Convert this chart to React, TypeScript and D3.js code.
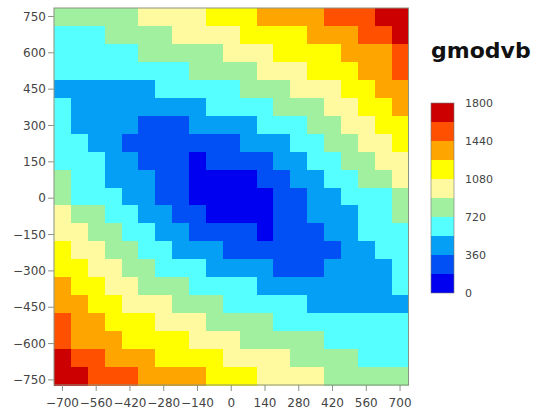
import React from 'react';
import * as d3 from 'd3';

// lag categories (cell centres)
const xCats = [-700, -630, -560, -490, -420, -350, -280, -210, -140, -70, 0, 70, 140, 210, 280, 350, 420, 490, 560, 630, 700];
const yCats = [750, 675, 600, 525, 450, 375, 300, 225, 150, 75, 0, -75, -150, -225, -300, -375, -450, -525, -600, -675, -750];

// axis tick labels
const xTicks = [-700, -560, -420, -280, -140, 0, 140, 280, 420, 560, 700];
const yTicks = [750, 600, 450, 300, 150, 0, -150, -300, -450, -600, -750];
const legendTicks = [0, 360, 720, 1080, 1440, 1800];

// colour classes (0 .. 1800 in steps of 180)
const breaks = [180, 360, 540, 720, 900, 1080, 1260, 1440, 1620];
const palette = ['#0000f0', '#0050f5', '#05a0f5', '#55ffff', '#a0f0a0', '#fffaa0', '#ffff00', '#ffa500', '#ff5000', '#cc0000'];

// gmodvb values, one row per y category (top to bottom)
const gmodvb = [
  [810, 810, 810, 810, 810, 990, 990, 990, 990, 1170, 1170, 1170, 1350, 1350, 1350, 1350, 1530, 1530, 1530, 1710, 1710],
  [630, 630, 630, 810, 810, 810, 810, 990, 990, 990, 990, 1170, 1170, 1170, 1170, 1350, 1350, 1350, 1530, 1530, 1710],
  [630, 630, 630, 630, 630, 810, 810, 810, 810, 810, 990, 990, 990, 1170, 1170, 1170, 1170, 1350, 1350, 1350, 1530],
  [630, 630, 630, 630, 630, 630, 630, 630, 810, 810, 810, 810, 990, 990, 990, 1170, 1170, 1170, 1350, 1350, 1530],
  [450, 450, 450, 450, 450, 450, 630, 630, 630, 630, 630, 810, 810, 810, 990, 990, 990, 1170, 1170, 1350, 1350],
  [630, 450, 450, 450, 450, 450, 450, 450, 450, 630, 630, 630, 630, 810, 810, 810, 990, 990, 1170, 1170, 1350],
  [630, 450, 450, 450, 450, 270, 270, 270, 450, 450, 450, 450, 630, 630, 630, 810, 810, 990, 990, 1170, 1170],
  [630, 630, 450, 450, 270, 270, 270, 270, 270, 270, 270, 450, 450, 450, 630, 630, 810, 810, 990, 990, 1170],
  [630, 630, 630, 450, 450, 270, 270, 270, 90, 270, 270, 270, 270, 450, 450, 630, 630, 810, 810, 990, 990],
  [810, 630, 630, 450, 450, 450, 270, 270, 90, 90, 90, 90, 270, 270, 450, 450, 630, 630, 810, 810, 990],
  [810, 630, 630, 630, 450, 450, 270, 270, 90, 90, 90, 90, 90, 270, 270, 450, 450, 630, 630, 630, 810],
  [990, 810, 810, 630, 630, 450, 450, 270, 270, 90, 90, 90, 90, 270, 270, 450, 450, 450, 630, 630, 810],
  [990, 990, 810, 810, 630, 630, 450, 450, 270, 270, 270, 270, 90, 270, 270, 270, 450, 450, 630, 630, 630],
  [1170, 990, 990, 810, 810, 630, 630, 450, 450, 450, 270, 270, 270, 270, 270, 270, 270, 450, 450, 630, 630],
  [1170, 1170, 990, 990, 810, 810, 630, 630, 630, 450, 450, 450, 450, 270, 270, 270, 450, 450, 450, 450, 630],
  [1350, 1170, 1170, 990, 990, 810, 810, 810, 630, 630, 630, 630, 450, 450, 450, 450, 450, 450, 450, 450, 630],
  [1350, 1350, 1170, 1170, 990, 990, 990, 810, 810, 810, 630, 630, 630, 630, 630, 450, 450, 450, 450, 450, 450],
  [1530, 1350, 1350, 1170, 1170, 1170, 990, 990, 990, 810, 810, 810, 810, 630, 630, 630, 630, 630, 630, 630, 630],
  [1530, 1350, 1350, 1350, 1170, 1170, 1170, 1170, 990, 990, 990, 810, 810, 810, 810, 810, 630, 630, 630, 630, 630],
  [1710, 1530, 1530, 1350, 1350, 1350, 1170, 1170, 1170, 1170, 990, 990, 990, 990, 810, 810, 810, 810, 630, 630, 630],
  [1710, 1710, 1530, 1530, 1530, 1350, 1350, 1350, 1350, 1170, 1170, 1170, 990, 990, 990, 990, 810, 810, 810, 810, 810],
];

const W = 537;
const H = 414;
const P = { left: 54, right: 408.5, top: 8, bottom: 385 };
const CB = { x: 431, w: 23, top: 103, bottom: 293 };
const FONT = 'DejaVu Sans, Verdana, sans-serif';
const fmt = d3.format('d');

export default function App() {
  const xBand = d3.scaleBand<string>().domain(xCats.map(String)).range([P.left, P.right]);
  const yBand = d3.scaleBand<string>().domain(yCats.map(String)).range([P.top, P.bottom]);
  const xLin = d3.scaleLinear().domain([-735, 735]).range([P.left, P.right]);
  const yLin = d3.scaleLinear().domain([-771, 785]).range([P.bottom, P.top]);
  const color = d3.scaleThreshold<number, string>().domain(breaks).range(palette);
  const cb = d3.scaleLinear().domain([0, 1800]).range([CB.bottom, CB.top]);
  const segs = [0, ...breaks].map((lo, i) => ({ lo, hi: i < breaks.length ? breaks[i] : 1800 }));

  const axisColor = '#8a9482';
  const textColor = '#444';

  return (
    <svg width={W} height={H} style={{ position: 'absolute', left: 0, top: 0, background: '#fff' }}>
      <rect x={0} y={0} width={W} height={H} fill="#fff" />
      <g shapeRendering="crispEdges">
        {gmodvb.map((row, ri) =>
          row.map((v, ci) => (
            <rect
              key={`${ri}-${ci}`}
              x={xBand(String(xCats[ci]))}
              y={yBand(String(yCats[ri]))}
              width={xBand.bandwidth() + 0.6}
              height={yBand.bandwidth() + 0.6}
              fill={color(v)}
            />
          ))
        )}
      </g>
      <rect x={P.left} y={P.top} width={P.right - P.left} height={P.bottom - P.top} fill="none" stroke={axisColor} strokeWidth={1} />
      {/* y axis */}
      {yTicks.map((t) => (
        <g key={`y${t}`} transform={`translate(0,${yLin(t)})`}>
          <line x1={P.left - 6} x2={P.left} stroke={axisColor} />
          <text x={P.left - 8} dy="0.35em" textAnchor="end" fontFamily={FONT} fontSize={12} fill={textColor}>
            {fmt(t)}
          </text>
        </g>
      ))}
      {/* x axis */}
      {xTicks.map((t) => (
        <g key={`x${t}`} transform={`translate(${xLin(t)},0)`}>
          <line y1={P.bottom} y2={P.bottom + 6} stroke={axisColor} />
          <text y={P.bottom + 22} textAnchor="middle" fontFamily={FONT} fontSize={12} fill={textColor}>
            {fmt(t)}
          </text>
        </g>
      ))}
      {/* title */}
      <text x={431} y={58} fontFamily={FONT} fontWeight="bold" fontSize={22} fill="#111">
        gmodvb
      </text>
      {/* colour bar */}
      <g shapeRendering="crispEdges">
        {segs.map((s, i) => (
          <rect key={`cb${i}`} x={CB.x} y={cb(s.hi)} width={CB.w} height={cb(s.lo) - cb(s.hi)} fill={palette[i]} />
        ))}
      </g>
      <rect x={CB.x} y={CB.top} width={CB.w} height={CB.bottom - CB.top} fill="none" stroke="#777" strokeWidth={0.6} />
      {legendTicks.map((t) => (
        <text key={`l${t}`} x={465} y={cb(t)} dy="0.35em" fontFamily={FONT} fontSize={11} fill={textColor}>
          {fmt(t)}
        </text>
      ))}
    </svg>
  );
}
